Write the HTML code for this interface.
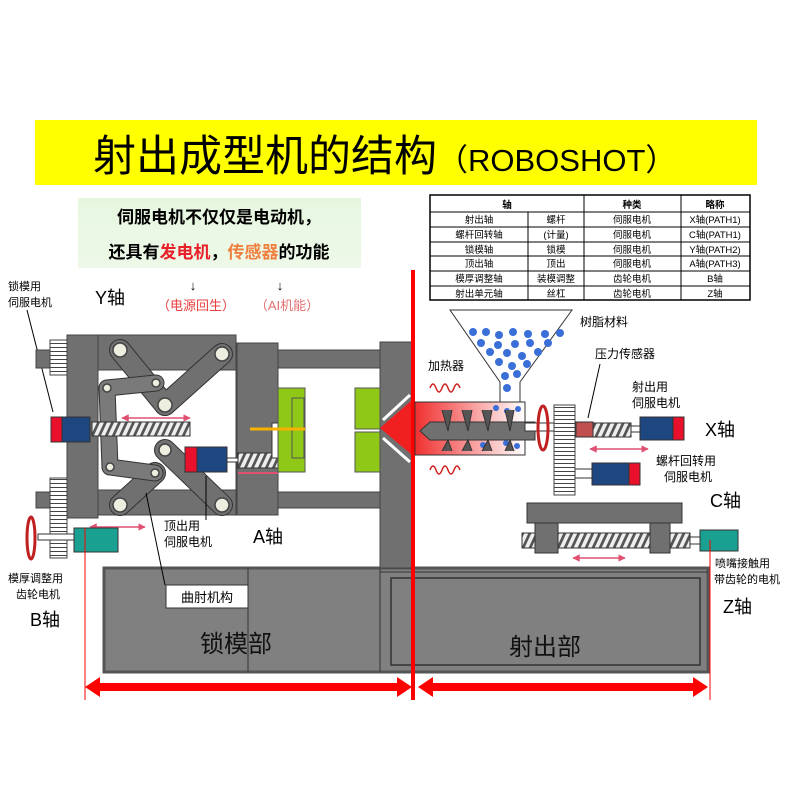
<!DOCTYPE html>
<html><head><meta charset="utf-8"><style>
body{margin:0;background:#fff}
svg{display:block;font-family:"Liberation Sans","Noto Sans CJK SC",sans-serif}
</style></head><body>
<svg width="800" height="800" viewBox="0 0 800 800" xmlns="http://www.w3.org/2000/svg">
<defs>
<pattern id="scr" width="7" height="20" patternUnits="userSpaceOnUse" patternTransform="skewX(-25)">
<rect width="7" height="20" fill="#eee"/><rect width="3" height="20" fill="#555"/></pattern>
<pattern id="gear" width="10" height="4" patternUnits="userSpaceOnUse">
<rect width="10" height="4" fill="#fff"/><rect y="3" width="10" height="1" fill="#444"/></pattern>
<linearGradient id="barrel" x1="0" x2="1"><stop offset="0" stop-color="#f03030"/><stop offset="1" stop-color="#fff"/></linearGradient>
<linearGradient id="gbox" x1="0" x2="0" y1="0" y2="1"><stop offset="0" stop-color="#e6f7e0"/><stop offset="1" stop-color="#eef8e8"/></linearGradient>
<marker id="pa" viewBox="0 0 10 10" refX="9" refY="5" markerWidth="5" markerHeight="5" orient="auto-start-reverse"><path d="M0 0L10 5L0 10Z" fill="#e05070"/></marker>
</defs>
<rect width="800" height="800" fill="#fff"/>
<!-- title -->
<rect x="35" y="120" width="722" height="65" fill="#ffff00"/>
<text x="93" y="171" font-size="43" fill="#000">射出成型机的结构<tspan font-size="31">（ROBOSHOT）</tspan></text>
<!-- green box -->
<rect x="78" y="198" width="283" height="70" fill="url(#gbox)"/>
<text x="219" y="223" font-size="17" font-weight="bold" text-anchor="middle">伺服电机不仅仅是电动机，</text>
<text x="219" y="258" font-size="17" font-weight="bold" text-anchor="middle">还具有<tspan fill="#e8202a">发电机</tspan>，<tspan fill="#f08040">传感器</tspan>的功能</text>
<text x="193" y="290" font-size="13" text-anchor="middle">↓</text>
<text x="280" y="290" font-size="13" text-anchor="middle">↓</text>
<text x="196" y="310" font-size="13" fill="#e84040" text-anchor="middle">（电源回生）</text>
<text x="287" y="310" font-size="13" fill="#e07070" text-anchor="middle">（AI机能）</text>
<text x="8" y="290" font-size="11">锁模用</text><text x="8" y="306" font-size="11">伺服电机</text>
<text x="95" y="304" font-size="18">Y轴</text>
<line x1="27" y1="310" x2="53" y2="412" stroke="#000"/>
<!-- table -->
<g font-size="9.5" text-anchor="middle" stroke="none">
<rect x="430" y="195" width="320" height="105" fill="#fff" stroke="#000" stroke-width="1.5"/>
<g stroke="#000"><line x1="430" y1="212" x2="750" y2="212"/>
<line x1="430" y1="227" x2="750" y2="227"/><line x1="430" y1="242" x2="750" y2="242"/>
<line x1="430" y1="256" x2="750" y2="256"/><line x1="430" y1="271" x2="750" y2="271"/>
<line x1="430" y1="286" x2="750" y2="286"/>
<line x1="528" y1="212" x2="528" y2="300"/><line x1="584" y1="195" x2="584" y2="300"/><line x1="681" y1="195" x2="681" y2="300"/></g>
<text x="507" y="208" font-weight="bold">轴</text><text x="632" y="208" font-weight="bold">种类</text><text x="715" y="208" font-weight="bold">略称</text>
<text x="479" y="223">射出轴</text><text x="556" y="223">螺杆</text><text x="632" y="223">伺服电机</text><text x="715" y="223">X轴(PATH1)</text>
<text x="479" y="238">螺杆回转轴</text><text x="556" y="238">(计量)</text><text x="632" y="238">伺服电机</text><text x="715" y="238">C轴(PATH1)</text>
<text x="479" y="253">锁模轴</text><text x="556" y="253">锁模</text><text x="632" y="253">伺服电机</text><text x="715" y="253">Y轴(PATH2)</text>
<text x="479" y="267">顶出轴</text><text x="556" y="267">顶出</text><text x="632" y="267">伺服电机</text><text x="715" y="267">A轴(PATH3)</text>
<text x="479" y="282">模厚调整轴</text><text x="556" y="282">装模调整</text><text x="632" y="282">齿轮电机</text><text x="715" y="282">B轴</text>
<text x="479" y="297">射出单元轴</text><text x="556" y="297">丝杠</text><text x="632" y="297">齿轮电机</text><text x="715" y="297">Z轴</text>
</g>
<!-- bed -->
<rect x="104" y="568" width="604" height="104" fill="#808080" stroke="#555" stroke-width="3"/>
<line x1="248" y1="568" x2="248" y2="672" stroke="#333"/>
<line x1="380" y1="568" x2="380" y2="672" stroke="#333"/>
<rect x="391" y="578" width="309" height="87" fill="none" stroke="#333" stroke-width="1.5"/>
<line x1="380" y1="572" x2="708" y2="572" stroke="#333"/>
<rect x="166" y="585" width="82" height="23" fill="#fff" stroke="#333"/>
<text x="207" y="602" font-size="13" text-anchor="middle">曲肘机构</text>
<text x="236" y="652" font-size="24" text-anchor="middle" fill="#111">锁模部</text>
<text x="545" y="655" font-size="24" text-anchor="middle" fill="#111">射出部</text>
<!-- tie bars -->
<rect x="36" y="350" width="344" height="18" fill="#707070" stroke="#444"/>
<rect x="36" y="492" width="344" height="16" fill="#707070" stroke="#444"/>
<!-- fixed platen -->
<rect x="380" y="342" width="32" height="226" fill="#707070" stroke="#444"/>
<!-- back plate & frame -->
<rect x="67" y="335" width="31" height="183" fill="#707070" stroke="#444"/>
<path d="M98 335H236V515H98Z M98 370V490H236V370Z" fill="#707070" fill-rule="evenodd" stroke="#444"/>
<rect x="237" y="343" width="41" height="172" fill="#707070" stroke="#444"/>
<!-- gear column -->
<rect x="50" y="340" width="17" height="35" fill="url(#gear)" stroke="#444"/>
<rect x="50" y="478" width="17" height="80" fill="url(#gear)" stroke="#444"/>
<!-- links -->
<g stroke-linecap="round" fill="none">
<g stroke="#333" stroke-width="22">
<line x1="120" y1="350" x2="165" y2="405"/><line x1="222" y1="354" x2="165" y2="405"/>
<line x1="165" y1="450" x2="222" y2="505"/><line x1="155" y1="473" x2="120" y2="505"/>
</g>
<g stroke="#707070" stroke-width="20">
<line x1="120" y1="350" x2="165" y2="405"/><line x1="222" y1="354" x2="165" y2="405"/>
<line x1="165" y1="450" x2="222" y2="505"/><line x1="155" y1="473" x2="120" y2="505"/>
</g>
<g stroke="#333" stroke-width="17">
<line x1="107" y1="388" x2="156" y2="383"/><line x1="107" y1="388" x2="110" y2="467"/><line x1="110" y1="467" x2="155" y2="473"/>
</g>
<g stroke="#7a7a7a" stroke-width="15">
<line x1="107" y1="388" x2="156" y2="383"/><line x1="107" y1="388" x2="110" y2="467"/><line x1="110" y1="467" x2="155" y2="473"/>
</g></g>
<g fill="#eeeee0" stroke="#444" stroke-width="1.5">
<circle cx="120" cy="350" r="7"/><circle cx="222" cy="354" r="7"/><circle cx="165" cy="405" r="7"/>
<circle cx="107" cy="388" r="4"/><circle cx="156" cy="383" r="4"/><circle cx="110" cy="467" r="4"/><circle cx="155" cy="473" r="4"/>
<circle cx="165" cy="450" r="6"/><circle cx="120" cy="505" r="7"/><circle cx="222" cy="505" r="7"/></g>
<!-- Y motor + screw -->
<rect x="92" y="422" width="98" height="14" fill="url(#scr)" stroke="#333"/>
<rect x="51" y="417" width="11" height="25" fill="#e8102a" stroke="#333"/>
<rect x="62" y="417" width="28" height="25" fill="#1e4680" stroke="#333"/>
<g stroke="#e05070" stroke-width="1.5" marker-start="url(#pa)" marker-end="url(#pa)"><line x1="122" y1="418" x2="190" y2="418"/><line x1="90" y1="527" x2="145" y2="527"/><line x1="590" y1="449" x2="648" y2="449"/><line x1="573" y1="558" x2="625" y2="558"/></g>
<line x1="238" y1="473" x2="278" y2="473" stroke="#e05070" stroke-width="2"/>
<!-- A motor -->
<rect x="238" y="453" width="40" height="15" fill="url(#scr)" stroke="#333"/>
<rect x="227" y="458" width="11" height="4" fill="#fff" stroke="#333"/>
<rect x="185" y="447" width="12" height="25" fill="#e8102a" stroke="#333"/>
<rect x="197" y="447" width="30" height="25" fill="#1e4680" stroke="#333"/>
<!-- molds -->
<rect x="272" y="423" width="6" height="35" fill="#fff" stroke="#333"/>
<rect x="278" y="388" width="27" height="84" fill="#90c818" stroke="#555"/>
<rect x="292" y="398" width="12" height="60" fill="none" stroke="#555"/>
<line x1="250" y1="429" x2="305" y2="429" stroke="#f8b000" stroke-width="3"/>
<rect x="355" y="388" width="25" height="41" fill="#90c818" stroke="#555"/>
<rect x="355" y="432" width="25" height="40" fill="#90c818" stroke="#555"/>
<!-- nozzle -->
<path d="M380 428 L412 400 L412 455 Z" fill="#f02020"/>
<path d="M383 420 L410 395 M383 438 L410 462" stroke="#fff" stroke-width="3"/>
<!-- red divider -->
<line x1="413" y1="270" x2="413" y2="700" stroke="#ff0000" stroke-width="4"/>
<!-- barrel -->
<rect x="415" y="402" width="110" height="53" fill="url(#barrel)" stroke="#333"/>
<path d="M450 310 H572 L520 382 V402 H500 V382 Z" fill="#fff" stroke="#333"/>
<g fill="#3a6fd8">
<circle cx="473" cy="332" r="4"/><circle cx="486" cy="332" r="4"/><circle cx="499" cy="335" r="4"/><circle cx="513" cy="332" r="4"/><circle cx="528" cy="334" r="4"/><circle cx="545" cy="334" r="4"/><circle cx="560" cy="333" r="4"/>
<circle cx="481" cy="343" r="4"/><circle cx="498" cy="345" r="4"/><circle cx="515" cy="344" r="4"/><circle cx="530" cy="343" r="4"/><circle cx="548" cy="343" r="4"/>
<circle cx="490" cy="352" r="4"/><circle cx="507" cy="353" r="4"/><circle cx="522" cy="356" r="4"/><circle cx="538" cy="352" r="4"/>
<circle cx="499" cy="362" r="4"/><circle cx="512" cy="366" r="4"/><circle cx="527" cy="364" r="4"/>
<circle cx="505" cy="376" r="4"/><circle cx="517" cy="374" r="4"/><circle cx="507" cy="388" r="4"/>
<circle cx="496" cy="408" r="3"/><circle cx="507" cy="411" r="3"/><circle cx="518" cy="409" r="3"/><circle cx="483" cy="445" r="3"/><circle cx="506" cy="443" r="3"/><circle cx="517" cy="446" r="3"/>
</g>
<path d="M420 431 L430 422 H535 V440 H430 Z" fill="#707070" stroke="#333"/>
<path d="M442 410 L448 431 L452 410 M462 410 L468 431 L472 410 M482 410 L488 431 L492 410 M505 410 L510 431 L514 410 M442 451 L448 440 L452 451 M462 451 L468 440 L472 451 M482 451 L488 440 L492 451 M505 451 L510 440 L514 451" fill="#555" stroke="#333"/>
<text x="428" y="370" font-size="12">加热器</text>
<path d="M430 388 q3 -8 6 0 q3 8 6 0 q3 -8 6 0 q3 8 6 0 q3 -8 6 0" fill="none" stroke="#d02020" stroke-width="1.5"/>
<path d="M430 470 q3 -8 6 0 q3 8 6 0 q3 -8 6 0 q3 8 6 0 q3 -8 6 0" fill="none" stroke="#d02020" stroke-width="1.5"/>
<text x="580" y="326" font-size="12">树脂材料</text>
<text x="595" y="358" font-size="12">压力传感器</text>
<line x1="600" y1="364" x2="588" y2="418" stroke="#000"/>
<text x="632" y="391" font-size="12">射出用</text><text x="632" y="407" font-size="12">伺服电机</text>
<!-- injection drive -->
<rect x="525" y="423" width="30" height="8" fill="#fff" stroke="#333"/>
<ellipse cx="543" cy="428" rx="5" ry="22" fill="none" stroke="#c02020" stroke-width="3"/>
<rect x="554" y="405" width="21" height="90" fill="url(#gear)" stroke="#444"/>
<rect x="576" y="422" width="17" height="15" fill="#c05050" stroke="#333"/>
<rect x="593" y="423" width="38" height="14" fill="url(#scr)" stroke="#333"/>
<rect x="631" y="426" width="9" height="6" fill="#fff" stroke="#333"/>
<rect x="640" y="417" width="33" height="23" fill="#1e4680" stroke="#333"/>
<rect x="673" y="417" width="11" height="23" fill="#e8102a" stroke="#333"/>
<text x="705" y="436" font-size="18">X轴</text>
<rect x="575" y="469" width="17" height="9" fill="#fff" stroke="#333"/>
<rect x="592" y="463" width="37" height="22" fill="#1e4680" stroke="#333"/>
<rect x="629" y="463" width="11" height="22" fill="#e8102a" stroke="#333"/>
<text x="656" y="465" font-size="12">螺杆回转用</text><text x="664" y="481" font-size="12">伺服电机</text>
<text x="710" y="507" font-size="18">C轴</text>
<!-- Z -->
<rect x="527" y="503" width="155" height="20" fill="#707070" stroke="#333"/>
<rect x="522" y="533" width="168" height="15" fill="url(#scr)" stroke="#333"/>
<rect x="535" y="523" width="23" height="30" fill="#707070" stroke="#333"/>
<rect x="650" y="523" width="20" height="30" fill="#707070" stroke="#333"/>
<rect x="690" y="537" width="10" height="7" fill="#fff" stroke="#333"/>
<rect x="700" y="530" width="38" height="21" fill="#1aa090" stroke="#333"/>
<text x="715" y="567" font-size="11">喷嘴接触用</text><text x="714" y="583" font-size="11">带齿轮的电机</text>
<text x="723" y="613" font-size="18">Z轴</text>
<!-- B -->
<rect x="38" y="534" width="36" height="6" fill="#fff" stroke="#333"/>
<ellipse cx="31" cy="538" rx="4" ry="21" fill="none" stroke="#c02020" stroke-width="3"/>
<rect x="74" y="528" width="44" height="24" fill="#1aa090" stroke="#333"/>
<text x="8" y="582" font-size="11">模厚调整用</text><text x="16" y="598" font-size="11">齿轮电机</text>
<text x="30" y="626" font-size="18">B轴</text>
<text x="164" y="530" font-size="12">顶出用</text><text x="164" y="546" font-size="12">伺服电机</text>
<line x1="206" y1="476" x2="206" y2="520" stroke="#000"/>
<line x1="146" y1="493" x2="165" y2="585" stroke="#000"/>
<text x="253" y="543" font-size="18">A轴</text>
<!-- dimension arrows -->
<g stroke="#ff0000"><line x1="85" y1="528" x2="85" y2="700"/><line x1="710" y1="540" x2="710" y2="700"/></g>
<path d="M85 687 L100 677 V683 H397 V677 L412 687 L397 697 V691 H100 V697 Z" fill="#ff0000"/>
<path d="M418 687 L433 677 V683 H693 V677 L708 687 L693 697 V691 H433 V697 Z" fill="#ff0000"/>
</svg>
</body></html>
